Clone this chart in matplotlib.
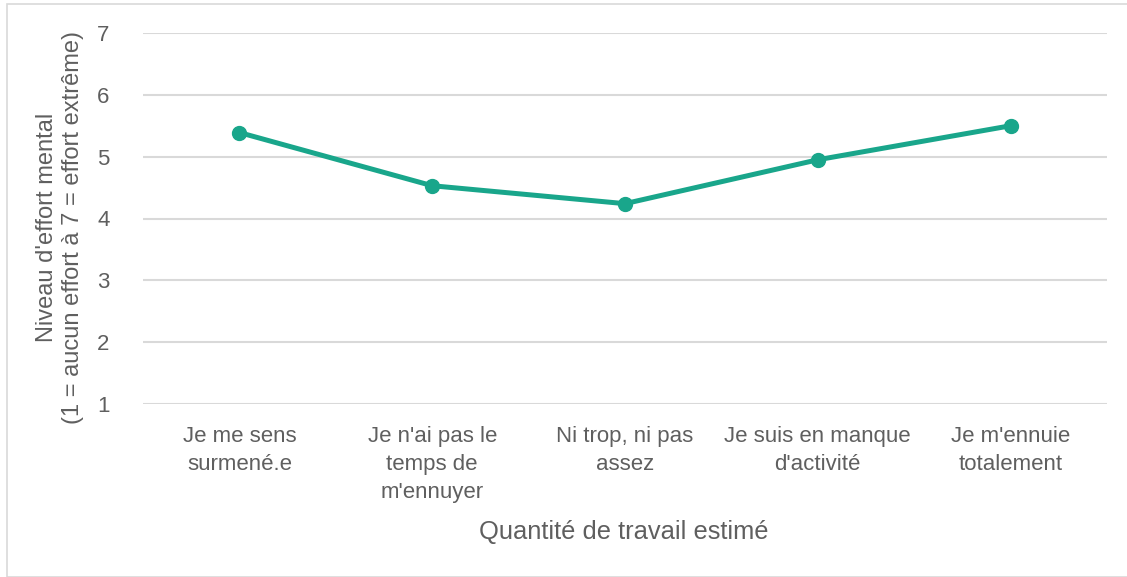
import matplotlib
matplotlib.use("Agg")
import matplotlib.pyplot as plt
from matplotlib.patches import Rectangle

categories = ["Je me sens\nsurmené.e", "Je n'ai pas le\ntemps de\nm'ennuyer",
              "Ni trop, ni pas\nassez", "Je suis en manque\nd'activité",
              "Je m'ennuie\ntotalement"]
values = [5.39, 4.53, 4.24, 4.95, 5.50]
yticks = [1, 2, 3, 4, 5, 6, 7]

plt.rcParams['font.family'] = ['Liberation Sans', 'DejaVu Sans']
txt = '#5f5f5f'

W, H = 1127, 577
fig = plt.figure(figsize=(W/100, H/100), dpi=100)
ax = fig.add_axes([143/W, 1-404/H, (1107-143)/W, (404-33)/H])

x = list(range(len(categories)))
ax.plot(x, values, color='#19a68b', lw=3.6, marker='o', ms=10, solid_capstyle='round', zorder=3)

ax.set_xlim(-0.5, len(categories)-0.5)
ax.set_ylim(1, 7)
ax.set_yticks(yticks)
ax.set_yticklabels([str(v) for v in yticks])
ax.grid(axis='y', color='#d9d9d9', lw=1.5)
ax.set_axisbelow(True)
for s in ax.spines.values():
    s.set_visible(False)
ax.tick_params(axis='y', length=0, pad=24, labelsize=16, labelcolor=txt)
ax.tick_params(axis='x', length=0, pad=16, labelsize=16, labelcolor=txt)
ax.set_xticks(x)
ax.set_xticklabels(categories, linespacing=1.42)

fig.text(624/W, 1-532/H, "Quantité de travail estimé", ha='center', va='center',
         fontsize=18.4, color=txt)
fig.text(60/W, 1-227/H, "Niveau d'effort mental\n(1 = aucun effort à 7 = effort extrême)",
         ha='center', va='center', rotation=90, fontsize=17, color=txt,
         linespacing=1.2)

fig.patches.append(Rectangle((7/W, 0), (W-7)/W + 0.01, 1-4/H, transform=fig.transFigure,
                             fill=False, edgecolor='#d9d9d9', lw=1.2))

fig.savefig("out.png", dpi=100)
